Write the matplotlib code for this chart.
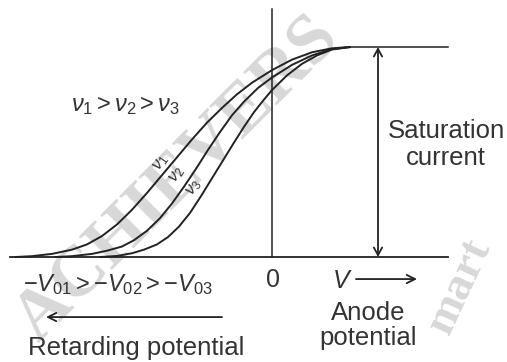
import matplotlib.pyplot as plt
import numpy as np

plt.rcParams['font.family'] = ['Liberation Sans', 'DejaVu Sans']
plt.rcParams['mathtext.fontset'] = 'custom'
plt.rcParams['mathtext.rm'] = 'Liberation Sans'
plt.rcParams['mathtext.it'] = 'Liberation Sans:italic'

# Photocurrent (% of saturation) vs anode potential (arbitrary units, 0 at origin)
v_nu1 = [-257, -240, -220, -200, -185, -170, -155, -140, -125, -110, -95, -80, -65, -50, -35, -20, 0, 20, 40, 60, 78]
i_nu1 = [0, 0.4, 1.5, 3.5, 6, 10, 15.5, 22.5, 30.5, 39, 47.5, 56, 64, 71, 77.5, 83, 89, 94, 97.5, 99.4, 100]

v_nu2 = [-217, -200, -180, -165, -150, -138, -125, -112, -100, -88, -76, -64, -52, -40, -28, -14, 0, 20, 40, 60, 78]
i_nu2 = [0, 0.4, 1.5, 3, 5, 8, 12.5, 18.5, 25.5, 33.5, 42, 51, 59.5, 67.5, 74, 80.5, 85.5, 91.5, 96, 99, 100]

v_nu3 = [-172, -155, -140, -128, -115, -104, -93, -82, -71, -60, -49, -38, -28, -18, -8, 0, 15, 30, 45, 60, 78]
i_nu3 = [0, 0.5, 1.8, 3.5, 6, 9.5, 14.5, 21, 29, 37.5, 46, 54.5, 62, 69, 75, 79.5, 86.5, 92, 96, 98.8, 100]

v_sat_end = 176
v_axis_left = -262
i_axis_top = 118
v_sat_arrow = 106

curve_labels = [r'$\nu_1$', r'$\nu_2$', r'$\nu_3$']
label_pos = [(-111, 45), (-95, 39), (-78, 33)]

ink = '#222222'
txt = '#333333'

fig = plt.figure(figsize=(5.07, 3.62), dpi=100)
ax = fig.add_axes([0, 0, 1, 1])
ax.set_xlim(-272, 235)
ax.set_ylim(-50, 122.4)
ax.axis('off')

# watermark
ax.text(-94, 37, 'ACHIEVERS', rotation=45, fontsize=52, color='#d8d8d8',
        family='Liberation Serif', weight='bold', ha='center', va='center', zorder=0)
ax.text(188, -14, 'mart', rotation=65, fontsize=34, color='#d8d8d8',
        family='Liberation Serif', weight='bold', ha='center', va='center', zorder=0)

# axes
ax.plot([v_axis_left, v_sat_end], [0, 0], color=ink, lw=1.3, zorder=2)
ax.plot([0, 0], [0, i_axis_top], color=ink, lw=1.1, zorder=2)
ax.plot([78, v_sat_end], [100, 100], color=ink, lw=1.1, zorder=2)

for v, i in [(v_nu1, i_nu1), (v_nu2, i_nu2), (v_nu3, i_nu3)]:
    ax.plot(v, i, color=ink, lw=1.4, solid_capstyle='round', solid_joinstyle='round', zorder=3)

for lab, (x, y) in zip(curve_labels, label_pos):
    ax.text(x, y, lab, rotation=55, fontsize=12, color=txt, ha='center', va='center', zorder=4)

# saturation current double arrow
ax.annotate('', xy=(v_sat_arrow, 100), xytext=(v_sat_arrow, 0),
            arrowprops=dict(arrowstyle='<->,head_length=0.55,head_width=0.3', color=ink, lw=1.3,
                            shrinkA=0, shrinkB=0), zorder=3)
ax.text(174, 53.5, 'Saturation\ncurrent', fontsize=18.5, color=txt, ha='center', va='center',
        linespacing=1.15)

ax.text(-147, 72, r'$\nu_1 > \nu_2 > \nu_3$', fontsize=17, color=txt, ha='center', va='center')

ax.text(1, -11, '0', fontsize=18, color=txt, ha='center', va='center')
ax.text(70, -11.5, r'$V$', fontsize=18, color=txt, ha='center', va='center')
ax.annotate('', xy=(145, -10.5), xytext=(84, -10.5),
            arrowprops=dict(arrowstyle='->,head_length=0.6,head_width=0.3', color=ink, lw=1.3,
                            shrinkA=0, shrinkB=0))
ax.text(96, -30, 'Anode', fontsize=18.5, color=txt, ha='center', va='baseline')
ax.text(96, -42, 'potential', fontsize=18.5, color=txt, ha='center', va='baseline')

ax.text(-154, -16, r'$-V_{01} > -V_{02} > -V_{03}$', fontsize=17, color=txt, ha='center', va='baseline')
ax.annotate('', xy=(-226, -28.6), xytext=(-50, -28.6),
            arrowprops=dict(arrowstyle='->,head_length=0.6,head_width=0.3', color=ink, lw=1.3,
                            shrinkA=0, shrinkB=0))
ax.text(-136, -46.5, 'Retarding potential', fontsize=18.5, color=txt, ha='center', va='baseline')

fig.savefig('out.png', dpi=100)
